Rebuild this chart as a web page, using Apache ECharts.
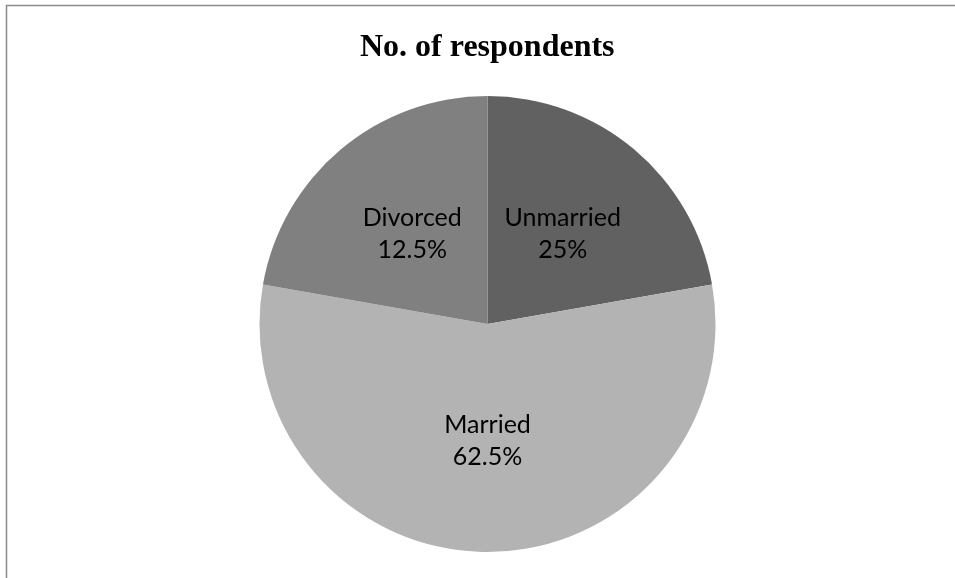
<!DOCTYPE html>
<html>
<head>
<meta charset="utf-8">
<script src="https://cdn.jsdelivr.net/npm/echarts@6/dist/echarts.min.js"></script>
<style>html,body{margin:0;padding:0;background:#fff}#c{width:955px;height:578px}</style>
</head>
<body>
<div id="c"></div>
<script>
// Categories in drawing order (clockwise from 12 o'clock)
var categories = ['Unmarried', 'Married', 'Divorced'];
// Slice sizes as drawn in the picture (angles ~80°, ~200°, ~80°)
var sliceValues = [2, 5, 2];
// Percent labels as printed on the chart
var labelPercents = ['25%', '62.5%', '12.5%'];
var sliceColors = ['#616161', '#b3b3b3', '#808080'];
var titleText = 'No. of respondents';

var chart = echarts.init(document.getElementById('c'), null, {renderer: 'canvas'});
var data = categories.map(function (c, i) {
  return {name: c, value: sliceValues[i], itemStyle: {color: sliceColors[i]}};
});
chart.setOption({
  animation: false,
  title: {
    text: titleText,
    left: 355,
    top: 27,
    textStyle: {fontFamily: 'Liberation Serif', fontWeight: 'bold', fontSize: 32, color: '#000'}
  },
  graphic: [{
    type: 'rect',
    shape: {x: 6.5, y: 5.5, width: 1000, height: 1000},
    style: {fill: 'none', stroke: '#8a8a8a', lineWidth: 1.5},
    silent: true
  }],
  series: [{
    type: 'pie',
    center: [487.5, 324],
    radius: [0, 228],
    startAngle: 90,
    clockwise: true,
    data: data,
    itemStyle: {borderWidth: 0},
    label: {
      position: 'inside',
      formatter: function (p) { return p.name + '\n' + labelPercents[p.dataIndex]; },
      fontFamily: 'Lato',
      fontSize: 25,
      lineHeight: 32,
      color: '#000'
    },
    labelLine: {show: false},
    emphasis: {disabled: true}
  }]
});
</script>
</body>
</html>
